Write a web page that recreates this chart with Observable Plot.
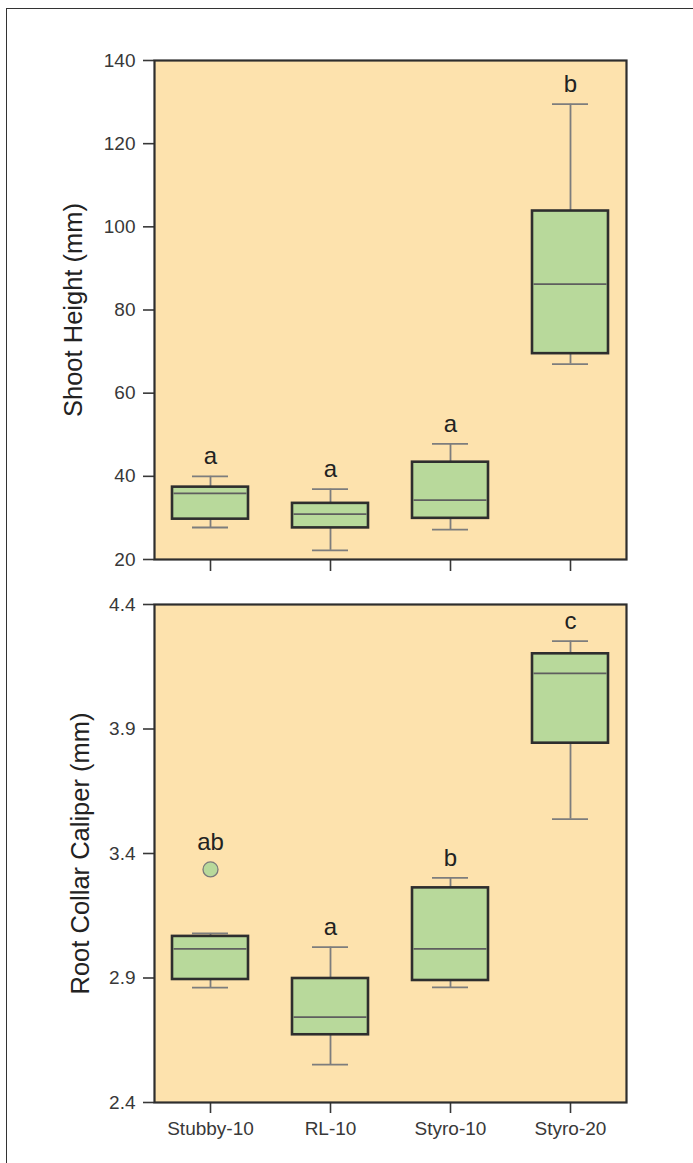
<!DOCTYPE html>
<html>
<head>
<meta charset="utf-8">
<script src="https://cdn.jsdelivr.net/npm/d3@7"></script>
<script src="https://cdn.jsdelivr.net/npm/@observablehq/plot@0.6"></script>
<style>
  html, body { margin: 0; padding: 0; background: #ffffff; overflow: hidden; }
  #wrap { position: relative; width: 693px; height: 1163px; overflow: hidden; font-family: "Liberation Sans", Arial, sans-serif; }
  #border { position: absolute; left: 6px; top: 8px; width: 900px; height: 1400px; border-left: 1.5px solid #333; border-top: 1.5px solid #333; }
  #p1 { position: absolute; left: 0; top: 0; }
  #p2 { position: absolute; left: 0; top: 580px; }
</style>
</head>
<body>
<div id="wrap">
  <div id="border"></div>
  <div id="p1"></div>
  <div id="p2"></div>
</div>
<script>
// ---- data ----
const categories = ["Stubby-10", "RL-10", "Styro-10", "Styro-20"];

// Shoot height (mm)
const shootLow    = [27.7, 22.2, 27.2, 67.0];
const shootQ1     = [29.7, 27.6, 29.9, 69.5];
const shootMedian = [35.9, 30.9, 34.3, 86.2];
const shootQ3     = [37.4, 33.5, 43.4, 103.8];
const shootHigh   = [40.0, 36.9, 47.8, 129.5];
const shootLetters = ["a", "a", "a", "b"];
const shootTicks  = [20, 40, 60, 80, 100, 120, 140];

// Root collar caliper (mm)
const rcdLow    = [2.861, 2.552, 2.862, 3.538];
const rcdQ1     = [2.894, 2.672, 2.890, 3.843];
const rcdMedian = [3.017, 2.743, 3.017, 4.123];
const rcdQ3     = [3.067, 2.898, 3.262, 4.202];
const rcdHigh   = [3.079, 3.024, 3.302, 4.253];
const rcdOutlierCats   = ["Stubby-10"];
const rcdOutlierValues = [3.336];
const rcdLetters = ["ab", "a", "b", "c"];
const rcdTicks  = [2.4, 2.9, 3.4, 3.9, 4.4];

// ---- styling ----
const BG = "#fde2ad";
const GREEN = "#b8d99b";
const DARK = "#2e2e2e";
const GREY = "#7d7d7d";
const FONT = "'Liberation Sans', Arial, sans-serif";

function rowsOf(low, q1, med, q3, high, letters, outCats, outVals) {
  return categories.map((c, i) => {
    const outs = outVals.filter((v, j) => outCats[j] === c);
    return {cat: c, low: low[i], q1: q1[i], med: med[i], q3: q3[i], high: high[i],
            letter: letters[i], hasOut: outs.length > 0,
            top: outs.length ? Math.max(high[i], ...outs) : high[i]};
  });
}

function panel({rows, outliers, domain, ticks, fmt, title, titleDx, showLabels, height, marginTop, marginBottom}) {
  return Plot.plot({
    width: 693,
    height,
    marginLeft: 154,
    marginRight: 67,
    marginTop,
    marginBottom,
    style: {fontFamily: FONT, color: "#383838", background: "transparent", overflow: "visible"},
    x: {type: "band", domain: categories, paddingInner: 0.37, paddingOuter: 0.14},
    y: {domain, nice: false},
    marks: [
      Plot.frame({fill: BG, stroke: null}),
      Plot.ruleX(rows, {x: "cat", y1: "low", y2: "high", stroke: GREY, strokeWidth: 1.8}),
      Plot.tickY(rows, {x: "cat", y: "high", stroke: GREY, strokeWidth: 1.8, insetLeft: 20, insetRight: 20}),
      Plot.tickY(rows, {x: "cat", y: "low", stroke: GREY, strokeWidth: 1.8, insetLeft: 20, insetRight: 20}),
      Plot.barY(rows, {x: "cat", y1: "q1", y2: "q3", fill: GREEN, stroke: DARK, strokeWidth: 2.6}),
      Plot.tickY(rows, {x: "cat", y: "med", stroke: "#5e5e5e", strokeWidth: 1.8, insetLeft: 1.5, insetRight: 1.5}),
      Plot.dot(outliers, {x: "cat", y: "value", r: 7.5, fill: GREEN, stroke: "#7a7a7a", strokeWidth: 1.3}),
      Plot.text(rows.filter(d => !d.hasOut), {x: "cat", y: "top", text: "letter", dy: -20, fontSize: 24, fill: "#222"}),
      Plot.text(rows.filter(d => d.hasOut), {x: "cat", y: "top", text: "letter", dy: -27, fontSize: 24, fill: "#222"}),
      Plot.axisY({ticks, tickSize: 11, tickPadding: 8, fontSize: 19, tickFormat: fmt, label: null, strokeWidth: 1.6}),
      showLabels
        ? Plot.axisX({tickSize: 11, tickPadding: 8, fontSize: 19, label: null, strokeWidth: 1.6})
        : Plot.axisX({tickSize: 12, tickFormat: () => "", label: null, strokeWidth: 1.6}),
      Plot.frame({stroke: DARK, strokeWidth: 2.2}),
      Plot.text([title], {frameAnchor: "left", textAnchor: "middle", lineAnchor: "middle", dx: titleDx, rotate: -90, fontSize: 25.5, fill: "#222"})
    ]
  });
}

const shootRows = rowsOf(shootLow, shootQ1, shootMedian, shootQ3, shootHigh, shootLetters, [], []);
const rcdRows = rowsOf(rcdLow, rcdQ1, rcdMedian, rcdQ3, rcdHigh, rcdLetters, rcdOutlierCats, rcdOutlierValues);
const rcdOutliers = rcdOutlierCats.map((c, i) => ({cat: c, value: rcdOutlierValues[i]}));

document.getElementById("p1").append(panel({
  rows: shootRows, outliers: [], domain: [20, 140], ticks: shootTicks, fmt: d3.format("d"),
  title: "Shoot Height (mm)", titleDx: -81, showLabels: false,
  height: 580, marginTop: 60, marginBottom: 21
}));

document.getElementById("p2").append(panel({
  rows: rcdRows, outliers: rcdOutliers, domain: [2.4, 4.4], ticks: rcdTicks, fmt: d3.format(".1f"),
  title: "Root Collar Caliper (mm)", titleDx: -74, showLabels: true,
  height: 583, marginTop: 24, marginBottom: 61
}));
</script>
</body>
</html>
